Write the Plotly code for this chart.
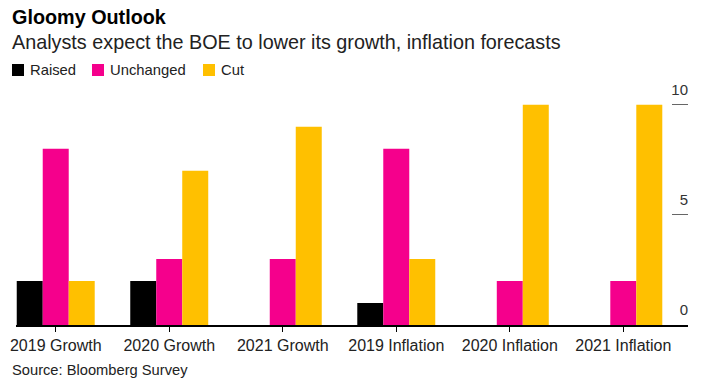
import plotly.graph_objects as go

categories = ["2019 Growth", "2020 Growth", "2021 Growth", "2019 Inflation", "2020 Inflation", "2021 Inflation"]
raised = [2, 2, 0, 1, 0, 0]
unchanged = [8, 3, 3, 8, 2, 2]
cut = [2, 7, 9, 3, 10, 10]
y_ticks = [0, 5, 10]
series_names = ["Raised", "Unchanged", "Cut"]
series_colors = ["#000000", "#f5008c", "#ffc000"]

W, H = 704, 387
L, R, T, B = 16, 16, 75, 62
pw = W - L - R
ph = H - T - B
unit = 22.03
ytop = 10 + (104.7 - T) / unit

def px(x):
    return (x - L) / pw

def py(y):
    return (H - B - y) / ph

FONT = "Liberation Sans, Arial, sans-serif"

fig = go.Figure()
for name, vals, col in zip(series_names, [raised, unchanged, cut], series_colors):
    fig.add_trace(go.Bar(name=name, x=categories, y=vals, marker_color=col,
                         marker_line_width=0))

annotations = [
    dict(text="<b>Gloomy Outlook</b>", x=px(10), y=py(17), xref="paper", yref="paper",
         xanchor="left", yanchor="middle", showarrow=False,
         font=dict(size=19.8, color="#000", family=FONT)),
    dict(text="Analysts expect the BOE to lower its growth, inflation forecasts",
         x=px(10), y=py(42), xref="paper", yref="paper", xanchor="left",
         yanchor="middle", showarrow=False, font=dict(size=19.8, color="#222", family=FONT)),
    dict(text="Source: Bloomberg Survey", x=px(10), y=py(370), xref="paper", yref="paper",
         xanchor="left", yanchor="middle", showarrow=False,
         font=dict(size=14.7, color="#222", family=FONT)),
]
shapes = []
legend_sq_x = [12, 92, 203]
for n, c, sx in zip(series_names, series_colors, legend_sq_x):
    shapes.append(dict(type="rect", xref="paper", yref="paper",
                       x0=px(sx), x1=px(sx + 12), y0=py(76), y1=py(64),
                       fillcolor=c, line_width=0))
    annotations.append(dict(text=n, x=px(sx + 16), y=py(70), xref="paper", yref="paper",
                            xanchor="left", yanchor="middle", showarrow=False,
                            font=dict(size=14.8, color="#222", family=FONT)))

fig.update_layout(
    width=W, height=H,
    margin=dict(l=L, r=R, t=T, b=B, autoexpand=False),
    barmode="group", bargap=0.313, bargroupgap=0,
    plot_bgcolor="white", paper_bgcolor="white",
    font=dict(family=FONT, size=14, color="#222"),
    showlegend=False,
    hovermode=False,
    xaxis=dict(range=[-0.35, 5.57], showline=True, linecolor="#000", linewidth=1.5,
               ticks="outside", ticklen=5, tickcolor="#000", tickwidth=1,
               tickfont=dict(size=16, color="#222"), showgrid=False, zeroline=False,
               automargin=False, fixedrange=True),
    yaxis=dict(side="right", range=[0, ytop], tickvals=y_ticks, showgrid=False,
               zeroline=False, showline=False, ticks="inside", ticklen=16,
               tickcolor="#666", tickwidth=1.2, ticklabelposition="inside",
               ticklabelshift=-15, ticklabelstandoff=-16, automargin=False,
               fixedrange=True, tickfont=dict(size=15, color="#333")),
    annotations=annotations,
    shapes=shapes,
)

fig.write_html("out.html", config={"displayModeBar": False},
               post_script="document.body.style.margin='0';")
